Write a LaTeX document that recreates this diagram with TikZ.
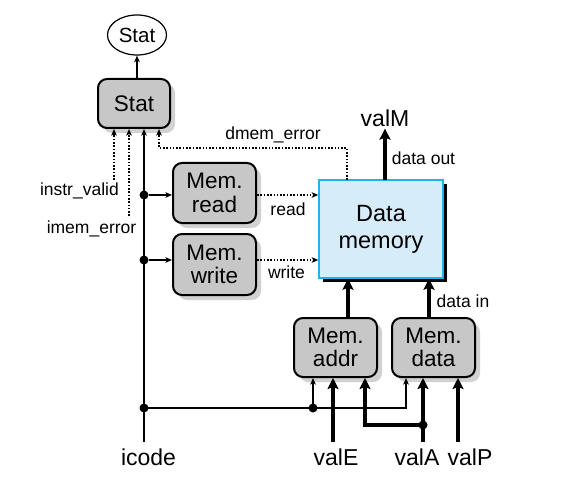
\documentclass[tikz,border=0pt]{standalone}
\usepackage{fontspec}
\setmainfont{Liberation Sans}
\usetikzlibrary{arrows.meta,shadows,shapes.geometric}
\definecolor{memfill}{HTML}{D6ECF9}
\definecolor{memline}{HTML}{22B2E6}
\tikzset{
	>={Stealth[length=6.5pt,width=5.5pt,inset=1.5pt]},
	unit/.style={draw,line width=2pt,rounded corners=9pt,fill=black!22,align=center,inner sep=0pt,
		minimum width=83pt,minimum height=60pt,font=\fontsize{22.5}{23.3}\selectfont,
		drop shadow={shadow xshift=5pt,shadow yshift=-5pt,fill=black!18,opacity=1}},
	memory/.style={draw=memline,line width=1.5pt,fill=memfill,align=center,inner sep=0pt,
		minimum width=124pt,minimum height=98pt,font=\fontsize{23.5}{27}\selectfont,
		drop shadow={shadow xshift=4pt,shadow yshift=-4pt,fill=black,opacity=1}},
	big/.style={font=\fontsize{23}{25}\selectfont,inner sep=2pt},
	small/.style={font=\fontsize{17.5}{19}\selectfont,inner sep=1pt},
	dot/.style={circle,fill,inner sep=0pt,minimum size=9pt},
	wire/.style={line width=1.2pt},
	sig/.style={line width=1.6pt,dash pattern=on 1.6pt off 1.7pt,->},
	bus/.style={line width=3.8pt,-{Stealth[length=11pt,width=11pt,inset=2pt]}},
}
\begin{document}
\begin{tikzpicture}[x=1pt,y=-1pt]
		\useasboundingbox (0,0) rectangle (585,494);
		%blocs
		\node (stat out) at(137,35) [ellipse,draw,line width=1.2pt,minimum width=59pt,minimum height=40pt,inner sep=0pt,font=\fontsize{20.5}{22}\selectfont] {Stat} ;
		\node (stat box) at(134,103.5) [unit,minimum width=72pt,minimum height=49pt] {Stat} ;
		\node (mem read) at(214.5,193) [unit] {Mem.\\read} ;
		\node (mem write) at(214.5,264.5) [unit,minimum height=61pt] {Mem.\\write} ;
		\node (data mem) at(381,229) [memory] {Data\\memory} ;
		\node (mem addr) at(335.5,347.5) [unit,minimum height=59pt] {Mem.\\addr} ;
		\node (mem data) at(433.5,347.5) [unit,minimum height=59pt] {Mem.\\data} ;

		%textes
		\node (valM) at(385,118) [big] {valM} ;
		\node (icode) at(148.5,457) [big] {icode} ;
		\node (valE) at(336,457) [big] {valE} ;
		\node (valA) at(417,457) [big] {valA} ;
		\node (valP) at(470,457) [big] {valP} ;
		\node (instr valid) at(120,191) [small,anchor=east] {instr\_valid} ;
		\node (imem error) at(91.5,228.5) [small] {imem\_error} ;
		\node (dmem error) at(273,135) [small] {dmem\_error} ;
		\node (read) at(288,209) [small] {read} ;
		\node (write) at(286.5,272) [small] {write} ;
		\node (data out) at(423.5,158) [small] {data out} ;
		\node (data in) at(463,301) [small] {data in} ;

		%points
		\node (dot read) at(144,195) [dot] {} ;
		\node (dot write) at(144,260) [dot] {} ;
		\node (dot icode) at(144,408) [dot] {} ;
		\node (dot addr) at(313,408) [dot] {} ;
		\node (dot valA) at(423,425) [dot] {} ;
		\coordinate (iv end) at(114,180) ;
		\coordinate (ie end) at(129,216) ;
		\coordinate (dm err) at(347,180) ;
		\coordinate (de corner) at(159,148) ;
		\coordinate (dm out) at(385,180) ;
		\coordinate (addr top) at(348,318) ;
		\coordinate (data top) at(429,318) ;
		\coordinate (ic corner) at(406,408) ;
		\coordinate (va corner) at(365,425) ;
		\coordinate (icode foot) at(144,442) ;
		\coordinate (valE foot) at(333,442) ;
		\coordinate (valA foot) at(423,442) ;
		\coordinate (valP foot) at(458,442) ;

		%fils
		\path
		(stat box.north -| stat out) edge[wire,->] (stat out)
		(icode foot) edge[wire,->] (icode foot |- stat box.south)
		(dot read) edge[wire,->] (dot read -| mem read.west)
		(dot write) edge[wire,->] (dot write -| mem write.west)
		(dot read -| mem read.east) edge[sig] (dot read -| data mem.west)
		(dot write -| mem write.east) edge[sig] (dot write -| data mem.west)
		(iv end) edge[sig] (iv end |- stat box.south)
		(ie end) edge[sig] (ie end |- stat box.south)
		(dm out) edge[bus] (valM)
		(addr top) edge[bus] (addr top |- data mem.south)
		(data top) edge[bus] (data top |- data mem.south)
		(valE foot) edge[bus] (valE foot |- mem addr.south)
		(valA foot) edge[bus] (valA foot |- mem data.south)
		(valP foot) edge[bus] (valP foot |- mem data.south)
		;
		\draw[sig] (dm err) |- (de corner) -- (de corner |- stat box.south) ;
		\draw[wire,->] (dot icode.center) -- (ic corner) -- (ic corner |- mem data.south) ;
		\draw[wire,->] (dot addr.center) -- (dot addr |- mem addr.south) ;
		\draw[bus] (dot valA.center) -- (va corner) -- (va corner |- mem addr.south) ;
	\end{tikzpicture}
\end{document}
